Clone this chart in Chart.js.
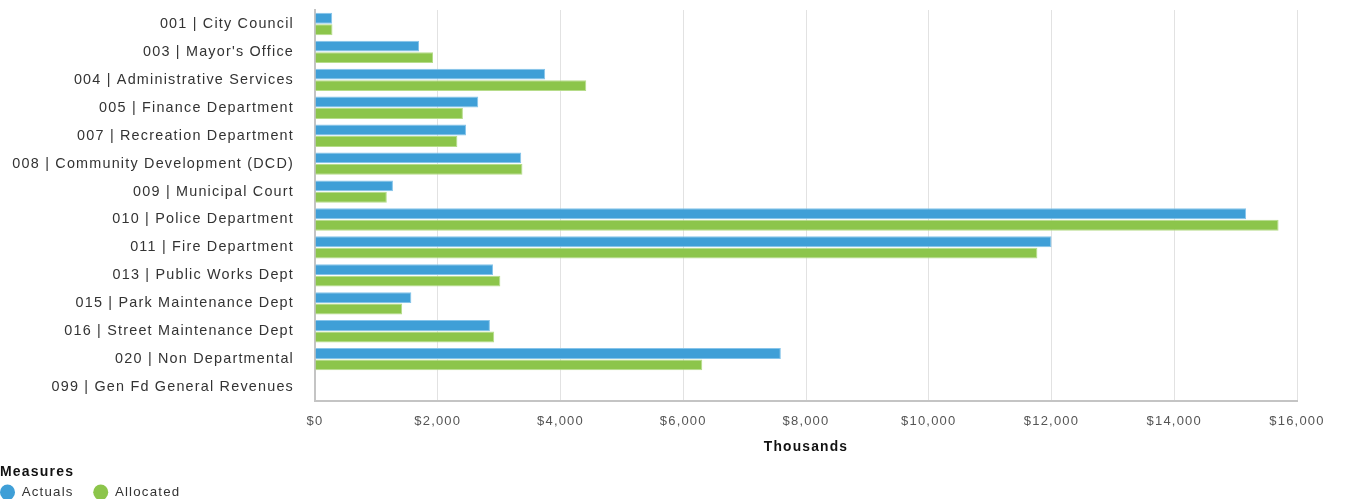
<!DOCTYPE html>
<html>
<head>
<meta charset="utf-8">
<script src="https://cdn.jsdelivr.net/npm/chart.js@4"></script>
<style>
  html, body { margin: 0; padding: 0; background: #fff; }
  #wrap { width: 1346px; height: 499px; }
</style>
</head>
<body>
<div id="wrap"><canvas id="deptChart" width="1346" height="499"></canvas></div>
<script>
const departments = [
    '001 | City Council',
    "003 | Mayor's Office",
    '004 | Administrative Services',
    '005 | Finance Department',
    '007 | Recreation Department',
    '008 | Community Development (DCD)',
    '009 | Municipal Court',
    '010 | Police Department',
    '011 | Fire Department',
    '013 | Public Works Dept',
    '015 | Park Maintenance Dept',
    '016 | Street Maintenance Dept',
    '020 | Non Departmental',
    '099 | Gen Fd General Revenues'
];
// values in thousands of dollars
const actuals   = [280, 1695, 3750, 2660, 2460, 3360, 1270, 15170, 12000, 2900, 1570, 2850, 7590, 0];
const allocated = [285, 1923, 4420, 2410, 2320, 3380, 1170, 15700, 11770, 3020, 1420, 2920, 6310, 0];
const xTicks = [0, 2000, 4000, 6000, 8000, 10000, 12000, 14000, 16000];

const FONT = '"Liberation Sans", Arial, sans-serif';
const SPACING = '1.2px';

// canvas letter spacing, the labels in the original are spaced out
const spacingPlugin = {
    id: 'spacing',
    beforeUpdate(chart) { chart.ctx.letterSpacing = SPACING; },
    beforeLayout(chart) { chart.ctx.letterSpacing = SPACING; },
    beforeDraw(chart) { chart.ctx.letterSpacing = SPACING; }
};

const ctx = document.getElementById('deptChart').getContext('2d');
new Chart(ctx, {
    type: 'bar',
    data: {
        labels: departments,
        datasets: [{
            label: 'Actuals',
            data: actuals,
            backgroundColor: '#3f9fd7',
            borderColor: '#86c4ea',
            borderWidth: 1,
            barPercentage: 0.95,
            categoryPercentage: 0.82
        }, {
            label: 'Allocated',
            data: allocated,
            backgroundColor: '#8cc54b',
            borderColor: '#b6dc8a',
            borderWidth: 1,
            barPercentage: 0.95,
            categoryPercentage: 0.82
        }]
    },
    options: {
        indexAxis: 'y',
        responsive: false,
        animation: false,
        devicePixelRatio: 1,
        layout: { padding: { top: 10, right: 49, left: 0, bottom: -10 } },
        scales: {
            x: {
                min: 0,
                max: 16000,
                afterBuildTicks: scale => { scale.ticks = xTicks.map(v => ({ value: v })); },
                afterFit: scale => {
                    scale.height = 64;
                    scale.paddingLeft = 0;
                    scale.paddingRight = 0;
                },
                grid: { color: '#e2e2e2', drawTicks: false },
                border: { display: true, color: '#c4c4c4', width: 2 },
                ticks: {
                    padding: 13,
                    color: '#555',
                    font: { family: FONT, size: 13 },
                    callback: v => '$' + v.toLocaleString('en-US')
                },
                title: {
                    display: true,
                    text: 'Thousands',
                    color: '#111',
                    font: { family: FONT, size: 13.8, weight: 'bold' },
                    padding: { top: 4, bottom: 10 }
                }
            },
            y: {
                afterFit: scale => {
                    scale.width = 315;
                    scale.paddingTop = 0;
                    scale.paddingBottom = 0;
                },
                grid: { display: false, drawTicks: false },
                border: { display: true, color: '#c4c4c4', width: 2 },
                ticks: {
                    padding: 21,
                    color: '#333',
                    font: { family: FONT, size: 14.4 }
                }
            }
        },
        plugins: {
            legend: {
                position: 'bottom',
                align: 'start',
                title: {
                    display: true,
                    text: 'Measures',
                    position: 'start',
                    color: '#111',
                    font: { family: FONT, size: 14, weight: 'bold' },
                    padding: { top: 0, bottom: 3.8 }
                },
                labels: {
                    usePointStyle: true,
                    pointStyle: 'circle',
                    boxHeight: 11,
                    pointStyleWidth: 15,
                    padding: 0,
                    color: '#333',
                    font: { family: FONT, size: 13.3 },
                    generateLabels: chart => chart.data.datasets.map((ds, i) => ({
                        text: ds.label + (i === 0 ? '    ' : ''),
                        fillStyle: ds.backgroundColor,
                        strokeStyle: ds.backgroundColor,
                        lineWidth: 0,
                        pointStyle: 'circle',
                        fontColor: '#333',
                        datasetIndex: i,
                        hidden: !chart.isDatasetVisible(i)
                    }))
                }
            },
            tooltip: { enabled: false }
        }
    },
    plugins: [spacingPlugin]
});
</script>
</body>
</html>
